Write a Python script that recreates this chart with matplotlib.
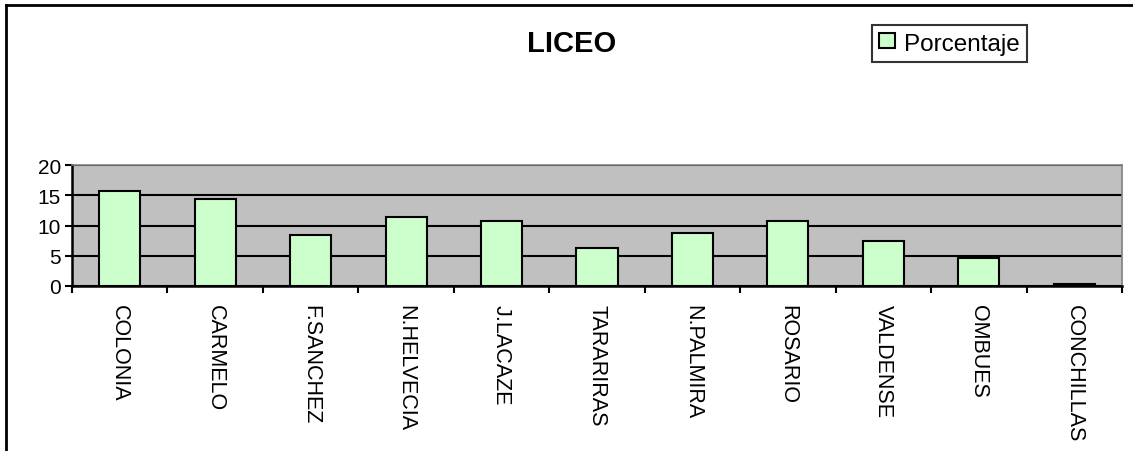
import matplotlib
matplotlib.use("Agg")
import matplotlib.pyplot as plt
from matplotlib.lines import Line2D

plt.rcParams["font.family"] = ["Liberation Sans", "DejaVu Sans"]

# data
categories = ["COLONIA", "CARMELO", "F.SANCHEZ", "N.HELVECIA", "J.LACAZE",
              "TARARIRAS", "N.PALMIRA", "ROSARIO", "VALDENSE", "OMBUES",
              "CONCHILLAS"]
porcentaje = [15.7, 14.4, 8.5, 11.4, 10.8, 6.2, 8.8, 10.8, 7.5, 4.7, 0.3]
y_ticks = [0, 5, 10, 15, 20]

W, H = 1133, 452
fig = plt.figure(figsize=(W / 100, H / 100), dpi=100)

# axes placed in pixel coords: x 72..1122, y 166..287 (from top)
ax = fig.add_axes([72 / W, 1 - 287 / H, (1122 - 72) / W, (287 - 166) / H])
ax.set_facecolor("#c0c0c0")

x = list(range(len(categories)))
ax.bar(x, porcentaje, width=0.43, color="#ccffcc", edgecolor="black",
       linewidth=1.5, label="Porcentaje", zorder=3)

ax.set_xlim(-0.5, len(categories) - 0.5)
ax.set_ylim(0, 20)
ax.set_yticks(y_ticks)
ax.yaxis.grid(True, color="black", linewidth=1.5, zorder=1)
ax.set_axisbelow(True)

ax.set_xticks([i - 0.5 for i in range(len(categories) + 1)], minor=False)
ax.set_xticklabels([])
ax.set_xticks(x, minor=True)
ax.set_xticklabels(categories, minor=True, rotation=270, fontsize=15.5,
                   va="top", ha="center")
ax.tick_params(axis="x", which="minor", length=0, pad=13)
ax.tick_params(axis="x", which="major", length=5, width=1.5, direction="out")
ax.tick_params(axis="y", length=5, width=1.5, direction="out", labelsize=15,
               pad=3)

for side in ["left", "bottom"]:
    ax.spines[side].set_linewidth(1.8)
for side in ["top", "right"]:
    ax.spines[side].set_color("#808080")
    ax.spines[side].set_linewidth(1.2)

fig.text(572 / W, 1 - 44 / H, "LICEO", fontsize=21, fontweight="bold",
         ha="center", va="center")

leg = ax.legend(loc="center", bbox_to_anchor=(949.5 / W, 1 - 44.5 / H),
                bbox_transform=fig.transFigure, fontsize=17.5, frameon=True,
                fancybox=False, handlelength=0.66, handleheight=0.58,
                handletextpad=0.35, borderpad=0.3, borderaxespad=0)
leg.get_frame().set_edgecolor("black")
leg.get_frame().set_linewidth(1.5)

# outer chart border (only left and top visible)
fig.add_artist(Line2D([6 / W, 6 / W], [0, 1 - 6 / H], color="black",
                      linewidth=2, transform=fig.transFigure))
fig.add_artist(Line2D([6 / W, 1], [1 - 6 / H, 1 - 6 / H], color="black",
                      linewidth=2, transform=fig.transFigure))

fig.savefig("out.png", dpi=100)
